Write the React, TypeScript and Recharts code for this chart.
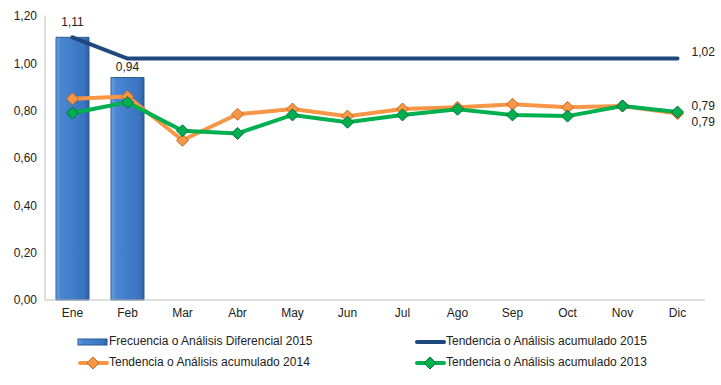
import React from 'react';
import {
  ComposedChart,
  Bar,
  Line,
  XAxis,
  YAxis,
  LabelList,
  Legend,
} from 'recharts';

const months = ['Ene', 'Feb', 'Mar', 'Abr', 'May', 'Jun', 'Jul', 'Ago', 'Sep', 'Oct', 'Nov', 'Dic'];
const frecuencia2015 = [1.11, 0.94, null, null, null, null, null, null, null, null, null, null];
const acumulado2015 = [1.11, 1.02, 1.02, 1.02, 1.02, 1.02, 1.02, 1.02, 1.02, 1.02, 1.02, 1.02];
const acumulado2014 = [0.85, 0.86, 0.675, 0.785, 0.807, 0.777, 0.807, 0.814, 0.827, 0.814, 0.82, 0.788];
const acumulado2013 = [0.79, 0.835, 0.715, 0.704, 0.782, 0.751, 0.782, 0.806, 0.782, 0.777, 0.82, 0.794];
const yTicks = [0, 0.2, 0.4, 0.6, 0.8, 1.0, 1.2];

const data = months.map((m, i) => ({
  month: m,
  frec: frecuencia2015[i],
  acu15: acumulado2015[i],
  acu14: acumulado2014[i],
  acu13: acumulado2013[i],
}));

const FONT = '"Liberation Sans", Arial, sans-serif';
const fmt = (v: number) => v.toFixed(2).replace('.', ',');

const Diamond = (fill: string, stroke: string) => (props: any) => {
  const { cx, cy } = props;
  if (cx == null || cy == null) return <g />;
  const r = 6;
  return (
    <path
      d={`M${cx},${cy - r}L${cx + r},${cy}L${cx},${cy + r}L${cx - r},${cy}Z`}
      fill={fill}
      stroke={stroke}
      strokeWidth={1}
    />
  );
};

const lastLabel = (dy: number) => (props: any) => {
  const { x, y, value, index } = props;
  if (index !== 11) return null;
  return (
    <text x={x + 14} y={y + dy} fontSize={12} fontFamily={FONT} fill="#222" dominantBaseline="middle">
      {fmt(value)}
    </text>
  );
};

const blueLabel = (props: any) => {
  const { x, y, value, index } = props;
  if (index === 0) {
    return (
      <text x={x} y={y - 14} fontSize={12} fontFamily={FONT} fill="#222" textAnchor="middle" dominantBaseline="middle">
        {fmt(value)}
      </text>
    );
  }
  if (index === 11) {
    return (
      <text x={x + 14} y={y - 6} fontSize={12} fontFamily={FONT} fill="#222" dominantBaseline="middle">
        {fmt(value)}
      </text>
    );
  }
  return null;
};

const barLabel = (props: any) => {
  const { x, y, width, value, index } = props;
  if (index !== 1 || value == null) return null;
  return (
    <text x={x + width / 2} y={y - 10} fontSize={12} fontFamily={FONT} fill="#222" textAnchor="middle" dominantBaseline="middle">
      {fmt(value)}
    </text>
  );
};

const legendItems = [
  { name: 'Frecuencia o Análisis Diferencial 2015', kind: 'bar', color: '#3a74c0', x: 78, y: 342 },
  { name: 'Tendencia o Análisis acumulado 2015', kind: 'line', color: '#1f487c', x: 415, y: 342 },
  { name: 'Tendencia o Análisis acumulado 2014', kind: 'diamond', color: '#f79646', stroke: '#c46a1e', x: 78, y: 363 },
  { name: 'Tendencia o Análisis acumulado 2013', kind: 'diamond', color: '#00b050', stroke: '#00703a', x: 415, y: 363 },
];

const CustomLegend = () => (
  <svg width={721} height={385} style={{ position: 'absolute', left: 0, top: 0, pointerEvents: 'none' }}>
    {legendItems.map((it) => (
      <g key={it.name}>
        {it.kind === 'bar' && (
          <rect x={it.x} y={it.y - 3} width={29} height={6} fill="url(#barGrad)" stroke="#2c5a94" strokeWidth={1} />
        )}
        {it.kind === 'line' && (
          <line x1={it.x + 2} y1={it.y} x2={it.x + 29} y2={it.y} stroke={it.color} strokeWidth={4} strokeLinecap="round" />
        )}
        {it.kind === 'diamond' && (
          <g>
            <line x1={it.x + 2} y1={it.y} x2={it.x + 29} y2={it.y} stroke={it.color} strokeWidth={4} strokeLinecap="round" />
            {Diamond(it.color, it.stroke as string)({ cx: it.x + 15, cy: it.y })}
          </g>
        )}
        <text x={it.x + 31} y={it.y} fontSize={12} fontFamily={FONT} fill="#222" dominantBaseline="middle">
          {it.name}
        </text>
      </g>
    ))}
  </svg>
);

export default function App() {
  return (
    <div style={{ position: 'absolute', left: 0, top: 0, width: 721, height: 385, background: '#fff' }}>
      <ComposedChart
        width={721}
        height={385}
        data={data}
        margin={{ top: 16, right: 16, bottom: 55, left: 0 }}
        barCategoryGap="20%"
      >
        <defs>
          <linearGradient id="barGrad" x1="0" y1="0" x2="1" y2="0">
            <stop offset="0%" stopColor="#6aa2e0" />
            <stop offset="15%" stopColor="#4a86d2" />
            <stop offset="85%" stopColor="#3a74c0" />
            <stop offset="100%" stopColor="#2c5d9e" />
          </linearGradient>
        </defs>
        <XAxis
          dataKey="month"
          tickLine={false}
          axisLine={{ stroke: '#bfbfbf' }}
          tick={{ fontSize: 12, fontFamily: FONT, fill: '#222' }}
          height={30}
        />
        <YAxis
          domain={[0, 1.2]}
          ticks={yTicks}
          tickFormatter={fmt}
          tickLine={false}
          axisLine={{ stroke: '#bfbfbf' }}
          tick={{ fontSize: 12, fontFamily: FONT, fill: '#222' }}
          width={45}
        />
        <Bar dataKey="frec" fill="url(#barGrad)" stroke="#2c5a94" strokeWidth={1} isAnimationActive={false}>
          <LabelList dataKey="frec" content={barLabel} />
        </Bar>
        <Line
          dataKey="acu15"
          stroke="#1f487c"
          strokeWidth={4}
          strokeLinecap="round"
          dot={false}
          activeDot={false}
          isAnimationActive={false}
        >
          <LabelList dataKey="acu15" content={blueLabel} />
        </Line>
        <Line
          dataKey="acu14"
          stroke="#f79646"
          strokeWidth={4}
          dot={Diamond('#f79646', '#c46a1e')}
          activeDot={false}
          isAnimationActive={false}
        >
          <LabelList dataKey="acu14" content={lastLabel(9)} />
        </Line>
        <Line
          dataKey="acu13"
          stroke="#00b050"
          strokeWidth={4}
          dot={Diamond('#00b050', '#00703a')}
          activeDot={false}
          isAnimationActive={false}
        >
          <LabelList dataKey="acu13" content={lastLabel(-5)} />
        </Line>
        <Legend content={() => null} />
      </ComposedChart>
      <CustomLegend />
    </div>
  );
}
